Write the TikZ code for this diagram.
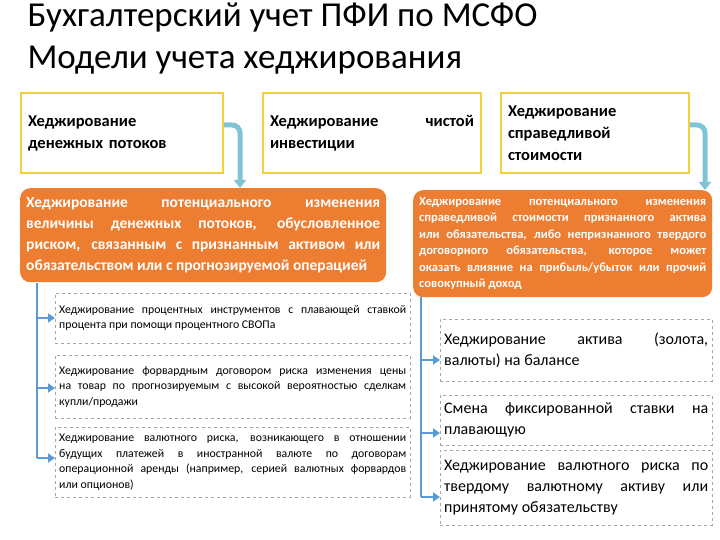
\documentclass[tikz,border=0pt]{standalone}
\usepackage{fontspec}
\setmainfont{Carlito}
\usetikzlibrary{arrows.meta}
\definecolor{yel}{HTML}{F2CF3B}
\definecolor{org}{HTML}{ED7D31}
\definecolor{blu}{HTML}{5B9BD5}
\definecolor{teal2}{HTML}{7FC3D6}
\begin{document}
\begin{tikzpicture}[x=1pt,y=-1pt,
  topbox/.style={draw=yel,line width=2pt,fill=white,minimum height=80pt,anchor=north west,inner sep=6pt,align=left,font=\fontsize{16.5}{22}\selectfont\bfseries},
  orbox/.style={fill=org,rounded corners=10pt,anchor=north west,text=white,align=justify,inner sep=6pt},
  dbox/.style={draw=gray!70,dashed,anchor=north west,align=justify,inner sep=4pt,fill=white},
  barr/.style={blu,line width=2pt,-{Triangle[length=7pt,width=9pt]}},
  tarr/.style={teal2,line width=5pt,rounded corners=8pt,-{Triangle[length=8pt,width=12pt]}}]
\useasboundingbox (0,0) rectangle (720,540);
\node[anchor=north west,align=left,font=\fontsize{35}{42}\selectfont] (title) at (24,-1) {Бухгалтерский учет ПФИ по МСФО\\Модели учета хеджирования};
\node[topbox,minimum width=202pt,text width=188pt] (t1) at (20,92) {Хеджирование\\денежных потоков};
\node[topbox,minimum width=218pt,text width=204pt,align=justify] (t2) at (262,92) {Хеджирование\hfill чистой\\инвестиции};
\node[topbox,minimum width=188pt,text width=174pt] (t3) at (500,92) {Хеджирование\\справедливой\\стоимости};
\node[orbox,text width=354pt,minimum height=94pt,font=\fontsize{15.5}{21}\selectfont\bfseries] (o1) at (20,188) {Хеджирование потенциального изменения величины денежных потоков, обусловленное риском, связанным с признанным активом или обязательством или с прогнозируемой операцией};
\node[orbox,text width=287pt,minimum height=107pt,font=\fontsize{12.5}{16.5}\selectfont\bfseries] (o2) at (413,190) {Хеджирование потенциального изменения справедливой стоимости признанного актива или обязательства, либо непризнанного твердого договорного обязательства, которое может оказать влияние на прибыль/убыток или прочий совокупный доход};
\draw[tarr] (t1.east|-0,125) -- (240,125) -- (240,188);
\draw[tarr] (t3.east|-0,125) -- (705,125) -- (705,190);
\node[dbox,text width=347pt,minimum height=50pt,font=\fontsize{11.8}{15.5}\selectfont] (a) at (55,293) {Хеджирование процентных инструментов с плавающей ставкой процента при помощи процентного СВОПа};
\node[dbox,text width=347pt,minimum height=63pt,font=\fontsize{11.8}{15.5}\selectfont] (b) at (55,355) {Хеджирование форвардным договором риска изменения цены на товар по прогнозируемым с высокой вероятностью сделкам купли/продажи};
\node[dbox,text width=347pt,minimum height=70pt,font=\fontsize{11.8}{15.5}\selectfont] (c) at (55,427) {Хеджирование валютного риска, возникающего в отношении будущих платежей в иностранной валюте по договорам операционной аренды (например, серией валютных форвардов или опционов)};
\node[dbox,text width=264pt,minimum height=62pt,font=\fontsize{16}{21}\selectfont] (d) at (440,319) {Хеджирование актива (золота, валюты) на балансе};
\node[dbox,text width=264pt,minimum height=50pt,font=\fontsize{16}{21}\selectfont] (e) at (440,395) {Смена фиксированной ставки на плавающую};
\node[dbox,text width=264pt,minimum height=75pt,font=\fontsize{16}{21}\selectfont] (f) at (440,450) {Хеджирование валютного риска по твердому валютному активу или принятому обязательству};
\coordinate (l0) at (37,283);
\coordinate (r0) at (421,297);
\draw[blu,line width=2pt] (l0) -- (37,458);
\draw[blu,line width=2pt] (r0) -- (421,497);
\draw[barr] (37,318) -- (a.west|-0,318);
\draw[barr] (37,388) -- (b.west|-0,388);
\draw[barr] (37,458) -- (c.west|-0,458);
\draw[barr] (421,360) -- (d.west|-0,360);
\draw[barr] (421,433) -- (e.west|-0,433);
\draw[barr] (421,497) -- (f.west|-0,497);
\end{tikzpicture}
\end{document}
